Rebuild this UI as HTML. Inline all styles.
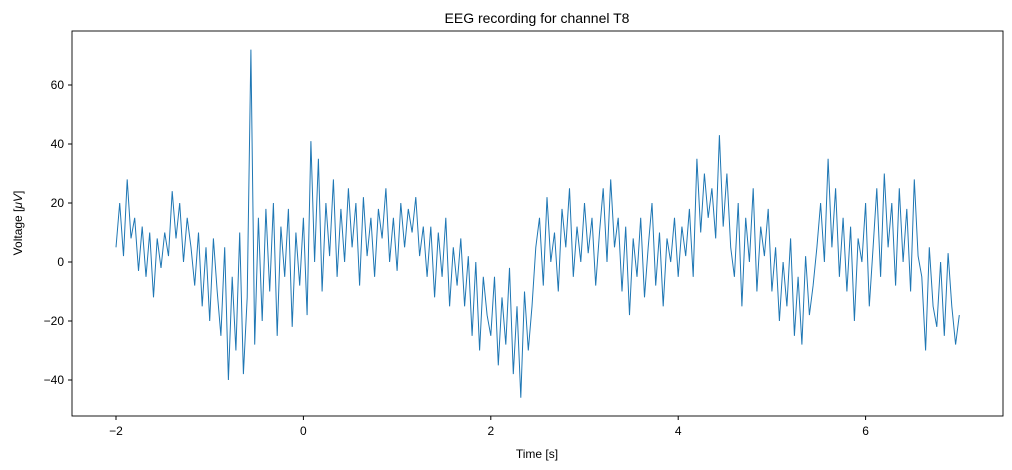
<!DOCTYPE html>
<html><head><meta charset="utf-8"><style>
body{margin:0;background:#fff;}
svg{display:block;font-family:"Liberation Sans","DejaVu Sans",sans-serif;}
</style></head><body>
<svg id="chart" width="1012" height="470">
<rect x="0" y="0" width="1012" height="470" fill="#fff"/>
<text x="537" y="23" text-anchor="middle" font-size="14">EEG recording for channel T8</text>
<g id="xt"></g>
<g id="yt"></g>
<polyline id="sig" fill="none" stroke="#1f77b4" stroke-width="1"/>
<rect x="72" y="31" width="931" height="385" fill="none" stroke="#000" stroke-width="0.9"/>
<text x="537" y="458" text-anchor="middle" font-size="12">Time [s]</text>
<text transform="translate(22,223) rotate(-90)" text-anchor="middle" font-size="12">Voltage [<tspan font-style="italic">μV</tspan>]</text>
</svg>
<script>
const tStart = -2, tStep = 0.04;
const voltage = [5,20,2,28,8,15,
-3,12,-5,10,-12,8,-2,
10,2,24,8,20,0,15,5,
-8,10,-15,5,-20,8,-10,
-25,5,-40,-5,-30,10,-38,-12,
72,
-28,15,-20,18,-10,20,-25,12,-5,18,-22,10,-8,
15,-18,41,0,35,-10,20,2,28,-5,18,0,25,
5,20,-8,22,2,15,-5,18,8,25,0,15,-3,20,5,18,10,22,2,12,
-5,12,-12,10,-5,15,-15,5,-8,8,
-15,2,-25,0,-30,-5,-18,
-25,-5,-35,-12,-28,-2,-38,-15,-46,-10,-30,
-15,5,
15,-8,22,0,10,-10,18,5,25,-5,12,0,20,3,15,-8,10,
25,0,28,5,15,
-10,12,-18,8,-5,15,-12,5,20,-8,10,-15,8,0,15,-5,12,2,18,-5,
35,10,30,15,25,8,43,12,30,5,
-5,20,-15,15,0,25,-10,12,2,18,
-10,5,-20,0,-15,8,-25,-5,-28,2,-18,-8,5,
20,0,35,5,25,-5,15,
-10,12,-20,8,0,20,-15,5,25,-5,
30,5,20,-8,25,0,18,-10,28,2,
-5,-30,5,-15,-22,0,-25,3,-15,-28,-18];
const xTicks = [-2,0,2,4,6];
const yTicks = [-40,-20,0,20,40,60];
const X = t => 116 + (t + 2) * 93.7;
const Y = v => 262 - v * 2.95;
const ns = "http://www.w3.org/2000/svg";
document.getElementById('sig').setAttribute('points', voltage.map((v,i)=>X(tStart+i*tStep).toFixed(1)+','+Y(v).toFixed(1)).join(' '));
const xt = document.getElementById('xt');
xTicks.forEach(t=>{
  const l=document.createElementNS(ns,'line');
  
  
  l.setAttribute('x1',X(t));l.setAttribute('x2',X(t));l.setAttribute('y1',416);l.setAttribute('y2',420);l.setAttribute('stroke','#000');
  xt.appendChild(l);
  const s=document.createElementNS(ns,'text');
  
  
  s.setAttribute('x',X(t));s.setAttribute('y',435);s.setAttribute('text-anchor','middle');s.setAttribute('font-size','12');
  s.textContent = t<0 ? '\u2212'+Math.abs(t) : t;
  xt.appendChild(s);
});
const yt = document.getElementById('yt');
yTicks.forEach(v=>{
  const l=document.createElementNS(ns,'line');
  
  
  l.setAttribute('x1',68);l.setAttribute('x2',72);l.setAttribute('y1',Y(v));l.setAttribute('y2',Y(v));l.setAttribute('stroke','#000');
  yt.appendChild(l);
  const s=document.createElementNS(ns,'text');
  
  
  s.setAttribute('x',64);s.setAttribute('y',Y(v)+4);s.setAttribute('text-anchor','end');s.setAttribute('font-size','12');
  s.textContent = v<0 ? '\u2212'+Math.abs(v) : v;
  yt.appendChild(s);
});
</script>
</body></html>
